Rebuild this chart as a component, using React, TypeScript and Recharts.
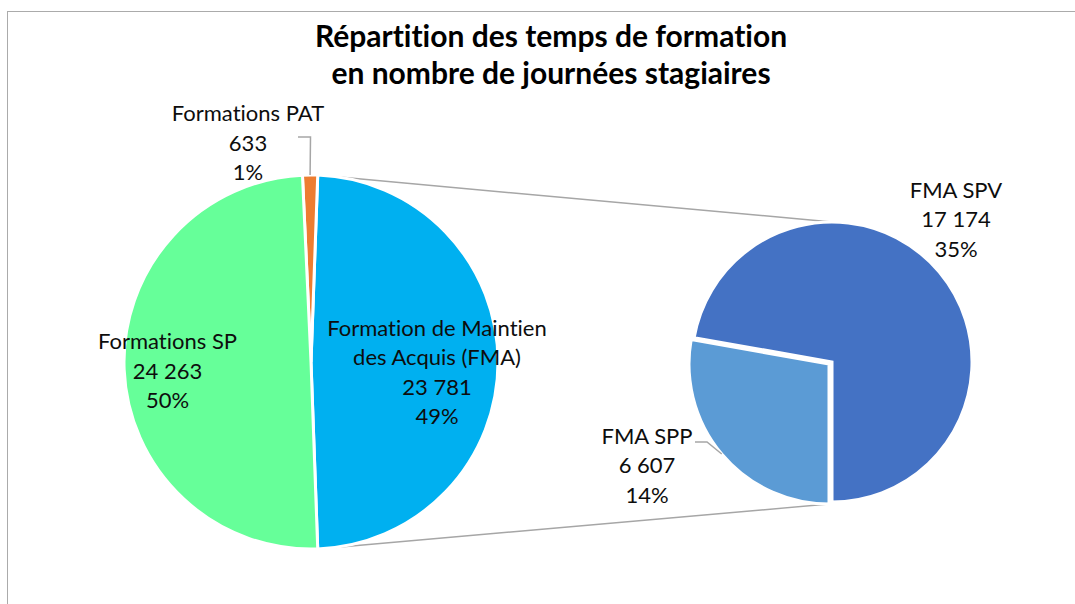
import { PieChart, Pie, Cell, Customized } from "recharts";

// premier camembert (total des formations)
const mainNames = ["Formation de Maintien des Acquis (FMA)", "Formations PAT", "Formations SP"];
const mainValues = [23781, 633, 24263];
const mainColors = ["#00B0F0", "#ED7D31", "#66FF99"];

// second camembert (détail FMA)
const subNames = ["FMA SPV", "FMA SPP"];
const subValues = [17174, 6607];
const subColors = ["#4472C4", "#5B9BD5"];

const titleLines = ["Répartition des temps de formation", "en nombre de journées stagiaires"];

const W = 1075;
const H = 604;
const LEFT = { cx: 311, cy: 362, r: 187 };
const RIGHT = { cx: 832, cy: 362, r: 140 };
const EXPLODE = { dx: -3, dy: 2 };
const FONT = "Lato, 'Open Sans', sans-serif";
const LINE_H = 29.5;
const noLiga = { fontVariantLigatures: "none", fontFeatureSettings: "'liga' 0, 'clig' 0" } as const;

const total = mainValues.reduce((a, b) => a + b, 0);
const fmaSweep = (mainValues[0] / total) * 360;
const mainStart = -fmaSweep / 2;

const mainData = mainNames.map((name, i) => ({ name, value: mainValues[i] }));

// label centre offsets from the pie centre, leader points relative to label centre
const labelLayout: Record<string, { dx: number; dy: number; leader?: number[][] }> = {
  "Formations PAT": { dx: -63, dy: -219.5, leader: [[50, -5.5], [62.5, -5.5]] },
  "Formations SP": { dx: -143.5, dy: 8.5 },
  "Formation de Maintien des Acquis (FMA)": { dx: 126, dy: 10 },
  "FMA SPV": { dx: 124, dy: -143 },
  "FMA SPP": { dx: -182, dy: 101, leader: [[48, -23], [60, -23]] },
};

const fmt = (v: number) => String(v).replace(/\B(?=(\d{3})+(?!\d))/g, " ");
const pct = (v: number) => `${Math.round((v / total) * 100)}%`;

function wrap(name: string, max = 22) {
  const out: string[] = [];
  let cur = "";
  for (const w of name.split(" ")) {
    if (cur && (cur + " " + w).length > max) {
      out.push(cur);
      cur = w;
    } else cur = cur ? cur + " " + w : w;
  }
  out.push(cur);
  return out;
}

function renderLabel(props: any) {
  const { cx, cy, midAngle, outerRadius } = props;
  const entry = props.payload ?? props;
  if (entry.hidden) return null;
  const lay = labelLayout[entry.name];
  if (!lay) return null;
  const x = cx + lay.dx;
  const y = cy + lay.dy;
  const lines = [...wrap(entry.name), fmt(entry.value), pct(entry.value)];
  const y0 = y - ((lines.length - 1) / 2) * LINE_H + 8;
  const rad = Math.PI / 180;
  const ox = cx + outerRadius * Math.cos(-midAngle * rad);
  const oy = cy + outerRadius * Math.sin(-midAngle * rad);
  let path = "";
  if (lay.leader) {
    const [a, b] = lay.leader;
    path = `M${x + a[0]},${y + a[1]} L${x + b[0]},${y + b[1]} L${ox},${oy}`;
  }
  return (
    <g key={`lbl-${entry.name}`}>
      {path && <path d={path} stroke="#A6A6A6" strokeWidth={1.5} fill="none" />}
      <text x={x} y={y0} textAnchor="middle" fontFamily={FONT} fontSize={22} fill="#0D0D0D" style={noLiga}>
        {lines.map((l, i) => (
          <tspan key={i} x={x} y={y0 + i * LINE_H}>
            {l}
          </tspan>
        ))}
      </text>
    </g>
  );
}

function Overlay() {
  const rad = Math.PI / 180;
  const a = (fmaSweep / 2) * rad;
  const topX = LEFT.cx + LEFT.r * Math.cos(a);
  const topY = LEFT.cy - LEFT.r * Math.sin(a);
  const botY = LEFT.cy + LEFT.r * Math.sin(a);
  return (
    <g>
      <line x1={topX} y1={topY} x2={RIGHT.cx} y2={RIGHT.cy - RIGHT.r} stroke="#A6A6A6" strokeWidth={1.5} />
      <line x1={topX} y1={botY} x2={RIGHT.cx + EXPLODE.dx} y2={RIGHT.cy + RIGHT.r + EXPLODE.dy} stroke="#A6A6A6" strokeWidth={1.5} />
      <text x={551} textAnchor="middle" fontFamily={FONT} fontWeight="bold" fontSize={30} fill="#000" style={noLiga}>
        {titleLines.map((t, i) => (
          <tspan key={i} x={551} y={47 + i * 37}>
            {t}
          </tspan>
        ))}
      </text>
    </g>
  );
}

export default function App() {
  const subMain = subNames.map((name, i) => ({ name, value: subValues[i], hidden: i === 1 }));
  const subExploded = subNames.map((name, i) => ({ name, value: subValues[i], hidden: i === 0 }));
  return (
    <div style={{ position: "fixed", left: 0, top: 0, width: W, height: H, overflow: "hidden", background: "#fff" }}>
      <div
        style={{
          position: "absolute",
          left: 7,
          top: 11,
          width: W + 40,
          height: H + 40,
          border: "1.5px solid #ABABAB",
        }}
      />
      <div style={{ position: "absolute", left: 0, top: 0 }}>
        <PieChart width={W} height={H} margin={{ top: 0, right: 0, bottom: 0, left: 0 }}>
          <Customized component={Overlay} />
          <Pie
            data={mainData}
            dataKey="value"
            nameKey="name"
            cx={LEFT.cx}
            cy={LEFT.cy}
            outerRadius={LEFT.r}
            startAngle={mainStart}
            endAngle={mainStart + 360}
            stroke="#fff"
            strokeWidth={3}
            label={renderLabel}
            labelLine={false}
            isAnimationActive={false}
          >
            {mainData.map((d, i) => (
              <Cell key={d.name} fill={mainColors[i]} />
            ))}
          </Pie>
          <Pie
            data={subMain}
            dataKey="value"
            nameKey="name"
            cx={RIGHT.cx}
            cy={RIGHT.cy}
            outerRadius={RIGHT.r}
            startAngle={-90}
            endAngle={270}
            strokeWidth={3}
            label={renderLabel}
            labelLine={false}
            isAnimationActive={false}
          >
            {subMain.map((d, i) => (
              <Cell key={d.name} fill={d.hidden ? "transparent" : subColors[i]} stroke={d.hidden ? "none" : "#fff"} />
            ))}
          </Pie>
          <Pie
            data={subExploded}
            dataKey="value"
            nameKey="name"
            cx={RIGHT.cx + EXPLODE.dx}
            cy={RIGHT.cy + EXPLODE.dy}
            outerRadius={RIGHT.r}
            startAngle={-90}
            endAngle={270}
            strokeWidth={3}
            label={renderLabel}
            labelLine={false}
            isAnimationActive={false}
          >
            {subExploded.map((d, i) => (
              <Cell key={d.name} fill={d.hidden ? "transparent" : subColors[i]} stroke={d.hidden ? "none" : "#fff"} />
            ))}
          </Pie>
        </PieChart>
      </div>
    </div>
  );
}
